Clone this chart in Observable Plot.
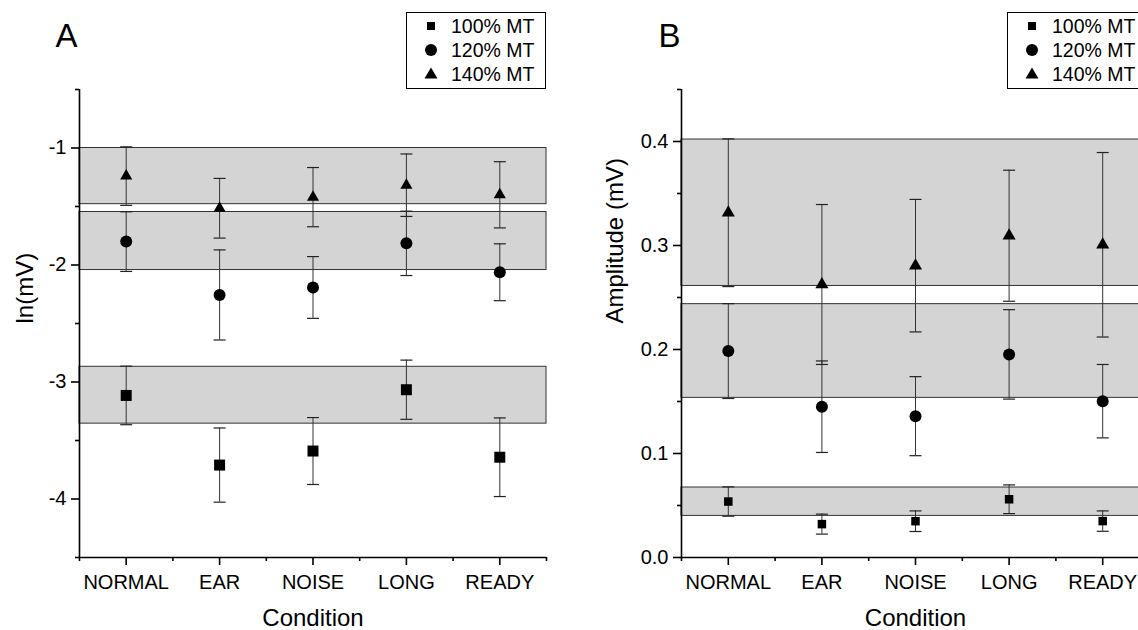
<!DOCTYPE html>
<html>
<head>
<meta charset="utf-8">
<script src="https://cdn.jsdelivr.net/npm/d3@7"></script>
<script src="https://cdn.jsdelivr.net/npm/@observablehq/plot@0.6"></script>
<style>
  html, body { margin: 0; padding: 0; background: #fff; }
  #wrap { position: relative; width: 1138px; height: 630px; overflow: hidden; font-family: "Liberation Sans", Arial, sans-serif; }
  .panel { position: absolute; top: 0; }
  .legend { position: absolute; top: 12px; width: 138px; height: 74px; border: 1px solid #000; background: #fff; padding-top: 1px; box-sizing: content-box; }
  .legend .row { position: relative; height: 24px; }
  .legend svg { position: absolute; left: 14px; top: 2px; }
  .legend span { position: absolute; left: 44px; top: 0; line-height: 24px; font-size: 19.5px; color: #000; white-space: nowrap; }
</style>
</head>
<body>
<div id="wrap"></div>
<script>
// ---------- data ----------
const conditions = ["NORMAL", "EAR", "NOISE", "LONG", "READY"];
const series = ["100% MT", "120% MT", "140% MT"];
const symbols = ["square", "circle", "triangle"];

// Panel A: ln(mV)
const lnMean100 = [-3.115, -3.710, -3.590, -3.066, -3.643];
const lnErr100  = [0.250, 0.317, 0.286, 0.253, 0.336];
const lnMean120 = [-1.800, -2.256, -2.192, -1.815, -2.062];
const lnErr120  = [0.255, 0.385, 0.264, 0.275, 0.243];
const lnMean140 = [-1.240, -1.515, -1.420, -1.318, -1.400];
const lnErr140  = [0.250, 0.255, 0.253, 0.267, 0.283];
const lnBandLow  = [-3.356, -2.043, -1.480];
const lnBandHigh = [-2.870, -1.547, -1.000];
const lnTicks = [-1, -2, -3, -4];
const lnMinorTicks = [-0.5, -1.5, -2.5, -3.5, -4.5];

// Panel B: Amplitude (mV)
const ampMean100 = [0.0538, 0.0321, 0.0349, 0.0560, 0.0350];
const ampErr100  = [0.0141, 0.0096, 0.0099, 0.0138, 0.0098];
const ampMean120 = [0.1985, 0.1450, 0.1359, 0.1953, 0.1503];
const ampErr120  = [0.0456, 0.0440, 0.0380, 0.0430, 0.0353];
const ampMean140 = [0.3315, 0.2625, 0.2806, 0.3094, 0.3007];
const ampErr140  = [0.0710, 0.0769, 0.0637, 0.0630, 0.0887];
const ampBandLow  = [0.0400, 0.1535, 0.2611];
const ampBandHigh = [0.0673, 0.2436, 0.4019];
const ampTicks = [0.0, 0.1, 0.2, 0.3, 0.4];
const ampMinorTicks = [0.05, 0.15, 0.25, 0.35, 0.45];

const xTicks = [1, 2, 3, 4, 5];
const xMinorTicks = [0.5, 1.5, 2.5, 3.5, 4.5, 5.5];

// ---------- helpers ----------
function rows(means, errs) {
  const out = [];
  means.forEach((m, k) => {
    m.forEach((v, i) => {
      out.push({x: i + 1, cond: conditions[i], series: series[k], symbol: symbols[k],
                mean: v, lo: v - errs[k][i], hi: v + errs[k][i]});
    });
  });
  return out;
}
function bandRows(lo, hi) {
  return lo.map((l, k) => ({series: series[k], lo: l, hi: hi[k]}));
}
const capSymbol = {
  draw(ctx, size) {
    const w = Math.sqrt(size / Math.PI);
    ctx.moveTo(-w, 0); ctx.lineTo(w, 0);
  }
};

function panel(cfg) {
  const data = rows(cfg.means, cfg.errs);
  const bands = bandRows(cfg.bandLow, cfg.bandHigh);
  const marks = [
    Plot.rect(bands, {y1: "lo", y2: "hi", fill: "#d3d4d3", stroke: "#333", strokeWidth: 1}),
    Plot.ruleX(data, {x: "x", y1: "lo", y2: "hi", stroke: "#333", strokeWidth: 1}),
    Plot.dot(data, {x: "x", y: "hi", symbol: () => capSymbol, r: 6, stroke: "#222", strokeWidth: 1.2, fill: "none"}),
    Plot.dot(data, {x: "x", y: "lo", symbol: () => capSymbol, r: 6, stroke: "#222", strokeWidth: 1.2, fill: "none"}),
  ];
  symbols.forEach((s, k) => {
    marks.push(Plot.dot(data.filter(d => d.symbol === s),
      {x: "x", y: "mean", symbol: s, r: cfg.r[k], fill: "#000", stroke: "none"}));
  });
  marks.push(
    Plot.ruleX([xMinorTicks[0]], {stroke: "#000", strokeWidth: 1.6}),
    Plot.ruleY([cfg.yDomain[0]], {stroke: "#000", strokeWidth: 1.6}),
    Plot.axisY({ticks: cfg.ticks, tickSize: 8, tickPadding: 5, tickFormat: cfg.format,
                fontSize: 20, label: null, strokeWidth: 1.6}),
    Plot.axisY({ticks: cfg.minor, tickSize: 4, tickFormat: () => "", label: null, strokeWidth: 1.6}),
    Plot.axisX({ticks: xTicks, tickSize: 8, tickPadding: 9, tickFormat: i => conditions[i - 1],
                fontSize: 20, label: null, strokeWidth: 1.6}),
    Plot.axisX({ticks: xMinorTicks, tickSize: 4, tickFormat: () => "", label: null, strokeWidth: 1.6}),
    Plot.text([cfg.yLabel], {text: d => d, frameAnchor: "left", dx: cfg.yLabelDx, rotate: -90,
                             lineAnchor: "middle", fontSize: 24}),
    Plot.text(["Condition"], {text: d => d, frameAnchor: "bottom", lineAnchor: "middle", dy: 61, fontSize: 24}),
    Plot.text([cfg.letter], {text: d => d, frameAnchor: "top-left", textAnchor: "start", lineAnchor: "middle",
                             dx: cfg.letterDx, dy: -53, fontSize: 33})
  );
  return Plot.plot({
    width: cfg.width, height: 630,
    marginLeft: cfg.marginLeft, marginRight: cfg.marginRight, marginTop: 89, marginBottom: 73,
    x: {type: "linear", domain: [xMinorTicks[0], xMinorTicks[xMinorTicks.length - 1]]},
    y: {type: "linear", domain: cfg.yDomain},
    style: {fontFamily: "'Liberation Sans', Arial, sans-serif", color: "#000", background: "transparent", overflow: "visible"},
    marks
  });
}

function legend(left) {
  const div = document.createElement("div");
  div.className = "legend";
  div.style.left = left + "px";
  const shapes = {
    square: '<rect x="6" y="6" width="8" height="8" fill="#000"/>',
    circle: '<circle cx="10" cy="10" r="6" fill="#000"/>',
    triangle: '<path d="M10,3.5 L16.5,14.5 L3.5,14.5 Z" fill="#000"/>'
  };
  series.forEach((s, k) => {
    const row = document.createElement("div");
    row.className = "row";
    row.innerHTML = `<svg width="20" height="20">${shapes[symbols[k]]}</svg><span>${s}</span>`;
    div.appendChild(row);
  });
  return div;
}

const wrap = document.getElementById("wrap");

const a = panel({
  means: [lnMean100, lnMean120, lnMean140], errs: [lnErr100, lnErr120, lnErr140],
  bandLow: lnBandLow, bandHigh: lnBandHigh,
  yDomain: [-4.5, -0.5], ticks: lnTicks, minor: lnMinorTicks, format: d => String(d),
  yLabel: "ln(mV)", yLabelDx: -54, letter: "A", letterDx: -24,
  width: 569, marginLeft: 79, marginRight: 23, r: [6.2, 6, 4.5]
});
a.classList.add("panel"); a.style.left = "0px";
wrap.appendChild(a);

const b = panel({
  means: [ampMean100, ampMean120, ampMean140], errs: [ampErr100, ampErr120, ampErr140],
  bandLow: ampBandLow, bandHigh: ampBandHigh,
  yDomain: [0, 0.45], ticks: ampTicks, minor: ampMinorTicks, format: d3.format(".1f"),
  yLabel: "Amplitude (mV)", yLabelDx: -66, letter: "B", letterDx: -23,
  width: 600, marginLeft: 112, marginRight: 20, r: [4.8, 6, 4.85]
});
b.classList.add("panel"); b.style.left = "569px";
wrap.appendChild(b);

wrap.appendChild(legend(406));
wrap.appendChild(legend(1007));
</script>
</body>
</html>
